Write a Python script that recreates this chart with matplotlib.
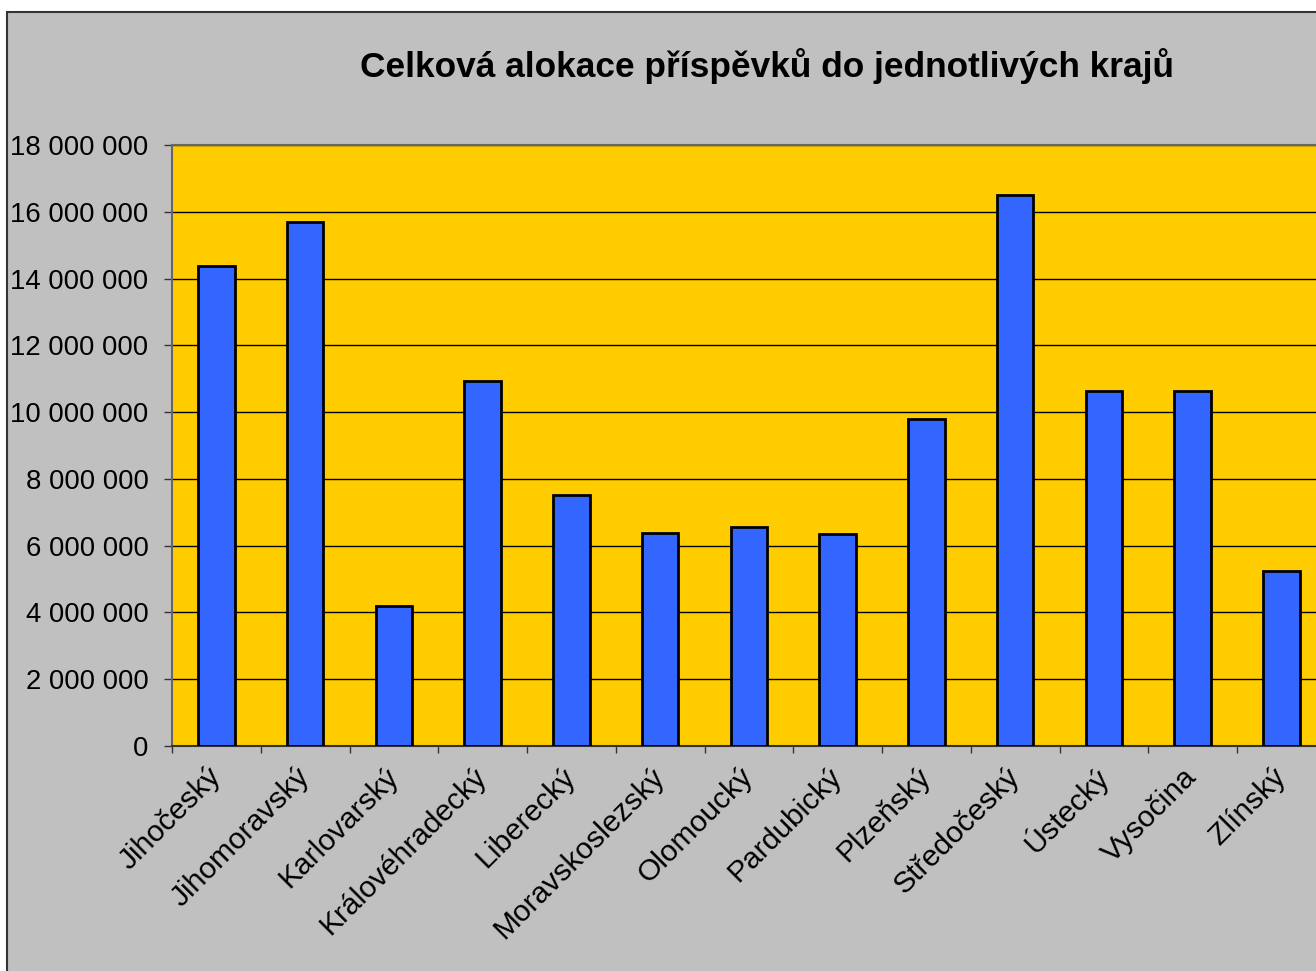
import matplotlib.pyplot as plt
from matplotlib.patches import Rectangle
from matplotlib.ticker import FuncFormatter, FixedLocator

# data
kraje = ["Jihočeský", "Jihomoravský", "Karlovarský", "Královéhradecký", "Liberecký",
         "Moravskoslezský", "Olomoucký", "Pardubický", "Plzeňský", "Středočeský",
         "Ústecký", "Vysočina", "Zlínský"]
prispevky = [14380000, 15690000, 4190000, 10930000, 7520000,
             6380000, 6560000, 6360000, 9790000, 16500000,
             10630000, 10630000, 5240000]
title = "Celková alokace příspěvků do jednotlivých krajů"

plt.rcParams['font.family'] = ['Liberation Sans', 'DejaVu Sans']

W, H = 1316, 971
fig = plt.figure(figsize=(W / 100, H / 100), dpi=100)
fig.patch.set_facecolor("white")

# gray chart area with border (cut off at right/bottom)
fig.patches.append(Rectangle((7 / W, -0.1), 1.2, 1 - 12 / H + 0.1,
                             transform=fig.transFigure, facecolor="#c0c0c0",
                             edgecolor="#333333", linewidth=1.5, zorder=-10))

left = 172 / W
step = (1237 - 172) / 12
ax = fig.add_axes([left, (H - 746) / H, 13 * step / W, (746 - 145) / H])
ax.set_zorder(1)
ax.set_facecolor("#ffcc00")

x = range(len(kraje))
ax.bar(x, prispevky, width=0.41, color="#3366ff", edgecolor="black",
       linewidth=2, zorder=3)

ax.set_xlim(-0.5, 12.5)
ax.set_ylim(0, 18000000)
ax.set_yticks(range(0, 18000001, 2000000))
ax.yaxis.set_major_formatter(FuncFormatter(lambda v, p: f"{int(v):,}".replace(",", " ")))
ax.grid(axis="y", color="black", linewidth=1, zorder=1)
ax.set_axisbelow(True)

ax.set_xticks(list(x))
ax.set_xticklabels(kraje, rotation=45, ha="right", va="center",
                   rotation_mode="anchor", fontsize=21.6)
ax.xaxis.set_minor_locator(FixedLocator([i - 0.5 for i in range(14)]))
ax.tick_params(axis="x", which="major", length=0, pad=19)
ax.tick_params(axis="x", which="minor", length=5, width=1, color="#333333", direction="out")
ax.tick_params(axis="y", length=6, width=1, color="#333333", labelsize=19.8, pad=11)

for s in ["top", "left", "right"]:
    ax.spines[s].set_color("#666666")
    ax.spines[s].set_linewidth(1.5)
ax.spines["bottom"].set_color("#333333")
ax.spines["bottom"].set_linewidth(1.5)

fig.text(767 / W, 1 - 66 / H, title, ha="center", va="center",
         fontsize=25.4, fontweight="bold")

plt.savefig("out.png", dpi=100, facecolor=fig.get_facecolor())
